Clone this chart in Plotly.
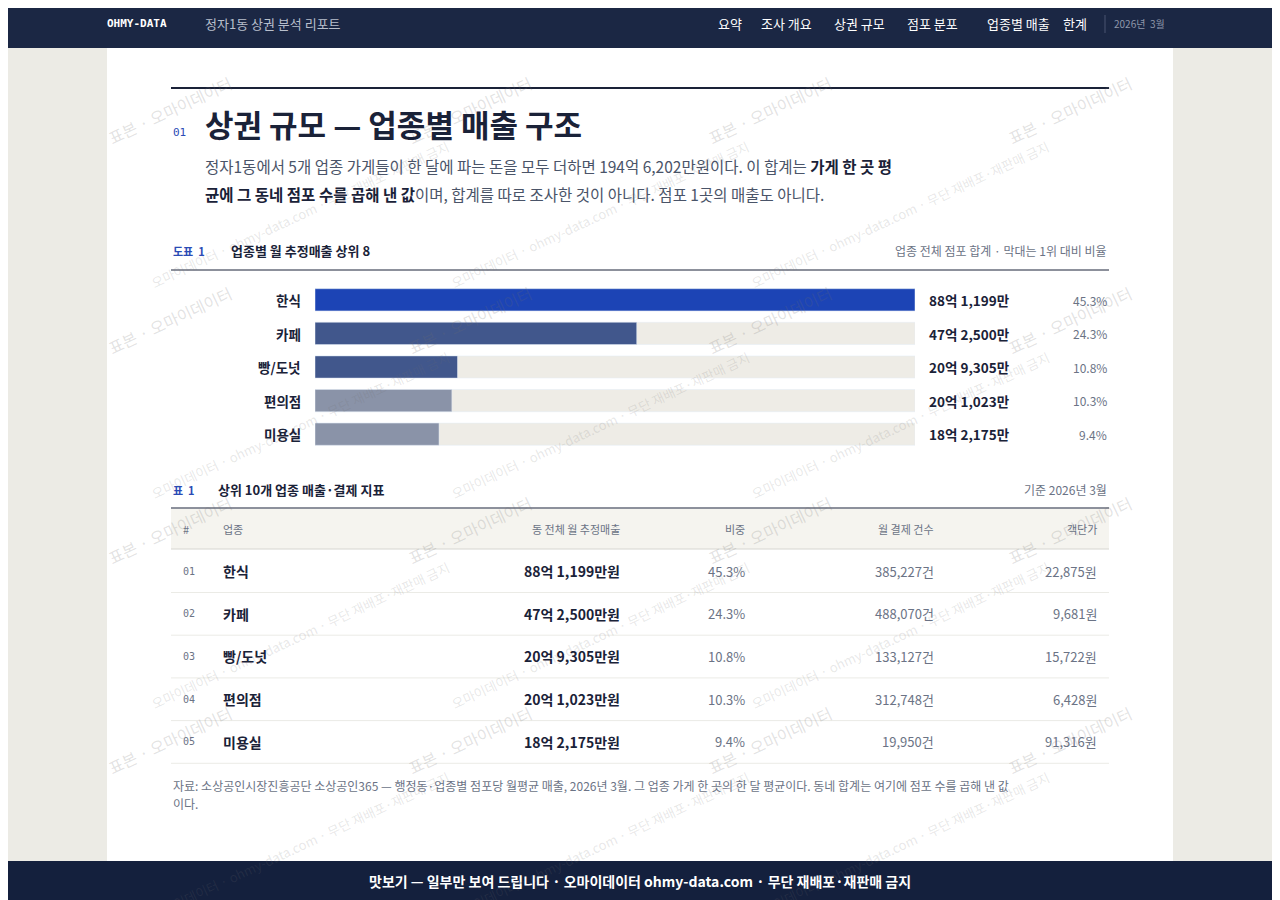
import plotly.graph_objects as go

W, H = 1280, 900
OFF = 8  # page body margin of the browser
FONT = "Noto Sans CJK KR"
MONO = "DejaVu Sans Mono"
NAVY = "#1b2744"
INK = "#1a2238"
GREY = "#6b7385"

categories = ["한식", "카페", "빵/도넛", "편의점", "미용실"]
sales_eok = [88.1199, 47.25, 20.9305, 20.1023, 18.2175]
sales_labels = ["88억 1,199만", "47억 2,500만", "20억 9,305만", "20억 1,023만", "18억 2,175만"]
shares = ["45.3%", "24.3%", "10.8%", "10.3%", "9.4%"]
bar_colors = ["#1c44b5", "#41578c", "#41578c", "#8a93a8", "#8a93a8"]

table_no = ["01", "02", "03", "04", "05"]
table_sales = ["88억 1,199만원", "47억 2,500만원", "20억 9,305만원", "20억 1,023만원", "18억 2,175만원"]
table_count = ["385,227건", "488,070건", "133,127건", "312,748건", "19,950건"]
table_price = ["22,875원", "9,681원", "15,722원", "6,428원", "91,316원"]
nav_items = ["요약", "조사 개요", "상권 규모", "점포 분포", "업종별 매출", "한계"]
nav_x = [730, 786, 859, 932, 1018, 1075]


def px(x):
    return (x - OFF) / W


def py(y):
    return 1 - (y - OFF) / H


shapes = []
annos = []


def rect(x0, y0, x1, y1, color, layer="below"):
    shapes.append(dict(type="rect", xref="paper", yref="paper", x0=px(x0), x1=px(x1),
                       y0=py(y1), y1=py(y0), fillcolor=color, line_width=0, layer=layer))


def hline(x0, x1, y, color, width=1):
    shapes.append(dict(type="line", xref="paper", yref="paper", x0=px(x0), x1=px(x1),
                       y0=py(y), y1=py(y), line=dict(color=color, width=width)))


def text(x, y, s, size=13, color=INK, anchor="left", family=FONT, angle=0):
    annos.append(dict(x=px(x), y=py(y), xref="paper", yref="paper", text=s, showarrow=False,
                      xanchor=anchor, yanchor="middle", textangle=angle,
                      font=dict(family=family, size=size, color=color)))


# page
rect(0, 0, W + OFF, H + OFF, "#ecebe5")
rect(107, 48, 1173, 861, "#ffffff")

# watermarks
for row in range(8):
    for col in range(4):
        y = 110 + row * 105
        if row % 2 == 0:
            x = 170 + col * 300
            text(x, y, "표본 · 오마이데이터", 16, "rgba(110,110,110,0.2)", anchor="center", angle=-25)
        else:
            x = 300 + col * 300
            if x > 1150:
                continue
            text(x, y, "오마이데이터 · ohmy-data.com · 무단 재배포·재판매 금지", 13,
                 "rgba(110,110,110,0.17)", anchor="center", angle=-25)

rect(0, 0, W + OFF, 48, NAVY, "above")
rect(0, 861, W + OFF, H + OFF, "#14203d", "above")

# header
text(105, 23, "<b>OHMY-DATA</b>", 11, "#ffffff", family=MONO)
text(203, 23, "정자1동 상권 분석 리포트", 13, "#b8bfcc")
for s, x in zip(nav_items, nav_x):
    text(x, 23, s, 13, "#ffffff", anchor="center")
shapes.append(dict(type="line", xref="paper", yref="paper", x0=px(1105), x1=px(1105),
                   y0=py(15), y1=py(33), line=dict(color="#4a5570", width=1)))
text(1112, 23, "2026년  3월", 10, "#8f97aa")

# title block
hline(171, 1109, 88, INK, 2)
text(171, 132, "01", 11, "#2a4bb5", family=MONO)
text(203, 124, "<b>상권 규모 — 업종별 매출 구조</b>", 31, INK)
text(203, 166, "정자1동에서 5개 업종 가게들이 한 달에 파는 돈을 모두 더하면 194억 6,202만원이다. 이 합계는 <b><span style='color:#1a2238'>가게 한 곳 평</span></b>",
     15.5, "#4a5468")
text(203, 194, "<b><span style='color:#1a2238'>균에 그 동네 점포 수를 곱해 낸 값</span></b>이며, 합계를 따로 조사한 것이 아니다. 점포 1곳의 매출도 아니다.",
     15.5, "#4a5468")

# figure 1 header
text(171, 251, "<b>도표  1</b>", 11, "#2a4bb5")
text(229, 250, "<b>업종별 월 추정매출 상위 8</b>", 13, INK)
text(1109, 250, "업종 전체 점포 합계 · 막대는 1위 대비 비율", 12, GREY, anchor="right")
hline(171, 1109, 270, INK, 1)

for i, c in enumerate(categories):
    yy = 300 + i * 33.6
    text(303, yy, "<b>" + c + "</b>", 13.5, INK, anchor="right")
    text(927, yy, "<b>" + sales_labels[i] + "</b>", 13.5, INK)
    text(1109, yy, shares[i], 12, GREY, anchor="right")

# table
text(171, 490, "<b>표  1</b>", 11, "#2a4bb5")
text(216, 489, "<b>상위 10개 업종 매출·결제 지표</b>", 13, INK)
text(1109, 489, "기준 2026년 3월", 12, GREY, anchor="right")
hline(171, 1109, 508, INK, 1)
rect(171, 509, 1109, 549, "#f5f4ef")
hline(171, 1109, 549, "#d6d6d0", 1)
hdr_y = 529
text(181, hdr_y, "#", 11, GREY)
text(221, hdr_y, "업종", 11, GREY)
text(622, hdr_y, "동 전체 월 추정매출", 11, GREY, anchor="right")
text(747, hdr_y, "비중", 11, GREY, anchor="right")
text(936, hdr_y, "월 결제 건수", 11, GREY, anchor="right")
text(1099, hdr_y, "객단가", 11, GREY, anchor="right")
for i in range(len(categories)):
    yy = 571 + i * 42.7
    text(181, yy, table_no[i], 10, GREY, family=MONO)
    text(221, yy, "<b>" + categories[i] + "</b>", 14, INK)
    text(622, yy, "<b>" + table_sales[i] + "</b>", 14, INK, anchor="right")
    text(747, yy, shares[i], 13, GREY, anchor="right")
    text(936, yy, table_count[i], 13, GREY, anchor="right")
    text(1099, yy, table_price[i], 13, GREY, anchor="right")
    hline(171, 1109, yy + 21.5, "#ebebe6", 1)

text(171, 785, "자료: 소상공인시장진흥공단 소상공인365 — 행정동·업종별 점포당 월평균 매출, 2026년 3월. 그 업종 가게 한 곳의 한 달 평균이다. 동네 합계는 여기에 점포 수를 곱해 낸 값",
     12, GREY)
text(171, 803, "이다.", 12, GREY)

text(640, 881, "<b>맛보기 — 일부만 보여 드립니다 · 오마이데이터 ohmy-data.com · 무단 재배포·재판매 금지</b>",
     14, "#ffffff", anchor="center")

fig = go.Figure()
top = max(sales_eok)
fig.add_trace(go.Bar(y=categories, x=[top] * len(categories), orientation="h",
                     marker=dict(color="#eeece6"), width=0.66, hoverinfo="skip"))
fig.add_trace(go.Bar(y=categories, x=sales_eok, orientation="h",
                     marker=dict(color=bar_colors), width=0.66))

fig.update_layout(
    width=W, height=H, margin=dict(l=0, r=0, t=0, b=0),
    paper_bgcolor="#ecebe5", plot_bgcolor="rgba(0,0,0,0)",
    barmode="overlay", showlegend=False,
    xaxis=dict(domain=[px(315), px(915)], range=[0, top], visible=False, fixedrange=True),
    yaxis=dict(domain=[py(451), py(283)], autorange="reversed", visible=False, fixedrange=True),
    shapes=shapes, annotations=annos,
    font=dict(family=FONT),
)

fig.write_html("out.html", config={"displayModeBar": False})
